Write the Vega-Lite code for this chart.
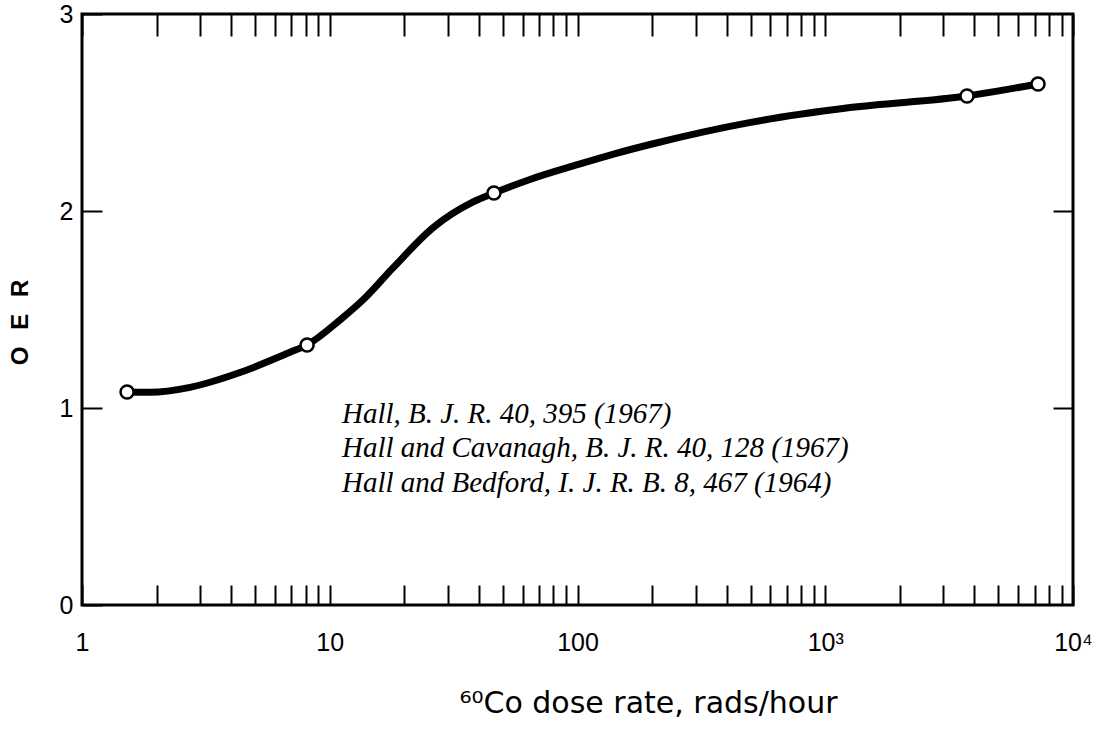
{
  "$schema": "https://vega.github.io/schema/vega-lite/v6.json",
  "width": 991,
  "height": 591,
  "autosize": {"type": "none"},
  "padding": {"left": 82, "top": 14, "right": 26, "bottom": 125},
  "background": "white",
  "config": {
    "view": {"stroke": "black", "strokeWidth": 3},
    "axis": {
      "grid": false,
      "domain": false,
      "tickColor": "black",
      "tickWidth": 2,
      "labelColor": "black",
      "titleColor": "black",
      "labelFont": "Liberation Sans",
      "titleFont": "Liberation Sans",
      "labelFlush": false,
      "labelOverlap": false,
      "labelBound": false
    }
  },
  "datasets": {
    "curve": [
      {"rate": 1.52, "oer": 1.081},
      {"rate": 1.88, "oer": 1.08},
      {"rate": 2.73, "oer": 1.105},
      {"rate": 4.34, "oer": 1.18},
      {"rate": 6.91, "oer": 1.283},
      {"rate": 8.1, "oer": 1.32},
      {"rate": 11.0, "oer": 1.447},
      {"rate": 13.6, "oer": 1.548},
      {"rate": 18.0, "oer": 1.711},
      {"rate": 26.1, "oer": 1.915},
      {"rate": 37.9, "oer": 2.046},
      {"rate": 46, "oer": 2.091},
      {"rate": 64.3, "oer": 2.16},
      {"rate": 100, "oer": 2.235},
      {"rate": 141, "oer": 2.29},
      {"rate": 200, "oer": 2.34},
      {"rate": 500, "oer": 2.45},
      {"rate": 1259, "oer": 2.525},
      {"rate": 3733, "oer": 2.584},
      {"rate": 7225, "oer": 2.645}
    ],
    "points": [
      {"rate": 1.52, "oer": 1.081},
      {"rate": 8.1, "oer": 1.32},
      {"rate": 46, "oer": 2.091},
      {"rate": 3733, "oer": 2.584},
      {"rate": 7225, "oer": 2.645}
    ],
    "notes": [
      {"rate": 11.2, "oer": 0.924, "line": "Hall, B. J. R. 40, 395 (1967)"},
      {"rate": 11.2, "oer": 0.751, "line": "Hall and Cavanagh, B. J. R. 40, 128 (1967)"},
      {"rate": 11.2, "oer": 0.574, "line": "Hall and Bedford, I. J. R. B. 8, 467 (1964)"}
    ]
  },
  "layer": [
    {
      "data": {"name": "curve"},
      "mark": {"type": "line", "color": "black", "strokeWidth": 7, "interpolate": "monotone", "strokeCap": "round"},
      "encoding": {
        "x": {
          "field": "rate", "type": "quantitative",
          "scale": {"type": "log", "domain": [1, 10000], "nice": false},
          "axis": {
            "orient": "bottom",
            "values": [1,2,3,4,5,6,7,8,9,10,20,30,40,50,60,70,80,90,100,200,300,400,500,600,700,800,900,1000,2000,3000,4000,5000,6000,7000,8000,9000,10000],
            "tickSize": -20,
            "labelPadding": 45,
            "labelFontSize": 25,
            "labelExpr": "datum.value == 1 ? '1' : datum.value == 10 ? '10' : datum.value == 100 ? '100' : datum.value == 1000 ? '10³' : datum.value == 10000 ? '10⁴' : ''",
            "title": "⁶⁰Co dose rate, rads/hour",
            "titleFont": "DejaVu Sans",
            "titleFontSize": 30,
            "titleFontWeight": "normal",
            "titleX": 566,
            "titleY": 107,
            "titleBaseline": "alphabetic",
            "titleAlign": "center"
          }
        },
        "y": {
          "field": "oer", "type": "quantitative",
          "scale": {"domain": [0, 3], "nice": false, "zero": false},
          "axis": {
            "orient": "left",
            "values": [0, 1, 2, 3],
            "tickSize": -20,
            "labelPadding": 29,
            "labelFontSize": 25,
            "title": "O\u2002\u2009E\u2002\u2009R",
            "titleFontSize": 24,
            "titleFontWeight": "bold",
            "titleAngle": 270,
            "titleX": -55,
            "titleY": 308,
            "titleBaseline": "alphabetic",
            "titleAlign": "center"
          }
        }
      }
    },
    {
      "data": {"name": "points"},
      "mark": {"type": "point", "filled": true, "fill": "white", "stroke": "black", "strokeWidth": 2.5, "size": 170, "opacity": 1},
      "encoding": {
        "x": {
          "field": "rate", "type": "quantitative",
          "axis": {
            "orient": "top",
            "values": [1,2,3,4,5,6,7,8,9,10,20,30,40,50,60,70,80,90,100,200,300,400,500,600,700,800,900,1000,2000,3000,4000,5000,6000,7000,8000,9000,10000],
            "tickSize": -22,
            "labels": false,
            "title": null
          }
        },
        "y": {
          "field": "oer", "type": "quantitative",
          "axis": {
            "orient": "right",
            "values": [1, 2],
            "tickSize": -20,
            "labels": false,
            "title": null
          }
        }
      }
    },
    {
      "data": {"name": "notes"},
      "mark": {"type": "text", "font": "Liberation Serif", "fontStyle": "italic", "fontSize": 29, "align": "left", "baseline": "alphabetic", "color": "black"},
      "encoding": {
        "x": {"field": "rate", "type": "quantitative", "axis": null},
        "y": {"field": "oer", "type": "quantitative", "axis": null},
        "text": {"field": "line"}
      }
    }
  ],
  "resolve": {"axis": {"x": "independent", "y": "independent"}}
}
